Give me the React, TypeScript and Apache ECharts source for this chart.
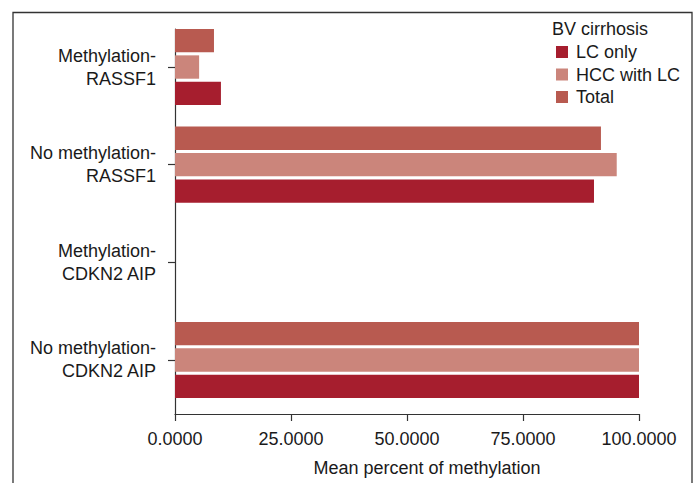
import React, { useEffect, useRef } from "react";
import * as echarts from "echarts";

const categories = [
  "Methylation-\nRASSF1",
  "No methylation-\nRASSF1",
  "Methylation-\nCDKN2 AIP",
  "No methylation-\nCDKN2 AIP",
];
const lcOnly = [9.9, 90.3, 0, 100];
const hccWithLc = [5.2, 95.2, 0, 100];
const total = [8.4, 91.8, 0, 100];
const xTicks = [0, 25, 50, 75, 100];

const FONT = "'Liberation Sans', Arial, Helvetica, sans-serif";
const TXT = "#1a1a1a";
const C_LC = "#A61E2E";
const C_HCC = "#CB857B";
const C_TOT = "#B85A50";

export default function App() {
  const ref = useRef<HTMLDivElement>(null);
  useEffect(() => {
    if (!ref.current) return;
    const chart = echarts.init(ref.current, undefined, { renderer: "svg" });
    const option: any = {
      animation: false,
      backgroundColor: "#ffffff",
      textStyle: { fontFamily: FONT },
      grid: [
        { left: 175, right: 57, top: 29, bottom: 69 },
        { left: 175, right: 57, top: 18.2, bottom: 74.2 },
      ],
      xAxis: [
        {
          gridIndex: 0,
          type: "value",
          min: xTicks[0],
          max: xTicks[xTicks.length - 1],
          interval: 25,
          axisLine: { show: true, lineStyle: { color: "#333", width: 1.2 } },
          axisTick: { show: true, length: 7, lineStyle: { color: "#333", width: 1.2 } },
          splitLine: { show: false },
          axisLabel: {
            color: TXT,
            fontSize: 18,
            fontFamily: FONT,
            margin: 16,
            formatter: (v: number) => v.toFixed(4),
          },
          name: "Mean percent of methylation",
          nameLocation: "middle",
          nameGap: 45,
          nameTextStyle: { color: TXT, fontSize: 18, fontFamily: FONT, padding: [0, 0, 0, 40] },
        },
        {
          gridIndex: 1,
          type: "value",
          min: 0,
          max: 100,
          show: false,
        },
      ],
      yAxis: [
        {
          gridIndex: 0,
          type: "value",
          min: 0,
          max: 1,
          axisLine: { show: true, lineStyle: { color: "#333", width: 1.2 } },
          axisTick: { show: false },
          axisLabel: { show: false },
          splitLine: { show: false },
        },
        {
          gridIndex: 1,
          type: "category",
          inverse: true,
          data: categories,
          axisLine: { show: false },
          axisTick: {
            show: true,
            alignWithLabel: true,
            length: 7,
            lineStyle: { color: "#333", width: 1.2 },
          },
          axisLabel: {
            color: TXT,
            fontSize: 18,
            fontFamily: FONT,
            margin: 19,
            lineHeight: 23,
            align: "right",
          },
          splitLine: { show: false },
        },
      ],
      legend: {
        data: ["LC only", "HCC with LC", "Total"],
        orient: "vertical",
        left: 551,
        top: 38,
        itemWidth: 12,
        itemHeight: 12,
        itemGap: 4.5,
        icon: "rect",
        textStyle: { color: TXT, fontSize: 18, fontFamily: FONT, padding: [0, 0, 0, 3] },
      },
      graphic: [
        {
          type: "rect",
          shape: { x: 13, y: 12.5, width: 679, height: 520 },
          style: { fill: "none", stroke: "#333", lineWidth: 1.3 },
          z: -1,
          silent: true,
        },
        {
          type: "text",
          left: 552,
          top: 20,
          style: { text: "BV cirrhosis", fill: TXT, fontSize: 18, fontFamily: FONT },
        },
      ],
      series: [
        {
          name: "Total",
          type: "bar",
          xAxisIndex: 1,
          yAxisIndex: 1,
          data: total,
          itemStyle: { color: C_TOT },
          barCategoryGap: "22%",
          barGap: "13%",
        },
        {
          name: "HCC with LC",
          type: "bar",
          xAxisIndex: 1,
          yAxisIndex: 1,
          data: hccWithLc,
          itemStyle: { color: C_HCC },
          barCategoryGap: "22%",
          barGap: "13%",
        },
        {
          name: "LC only",
          type: "bar",
          xAxisIndex: 1,
          yAxisIndex: 1,
          data: lcOnly,
          itemStyle: { color: C_LC },
          barCategoryGap: "22%",
          barGap: "13%",
        },
      ],
    };
    chart.setOption(option);
    return () => chart.dispose();
  }, []);
  return (
    <div
      ref={ref}
      style={{ position: "fixed", left: 0, top: 0, width: 696, height: 483, background: "#fff" }}
    />
  );
}
